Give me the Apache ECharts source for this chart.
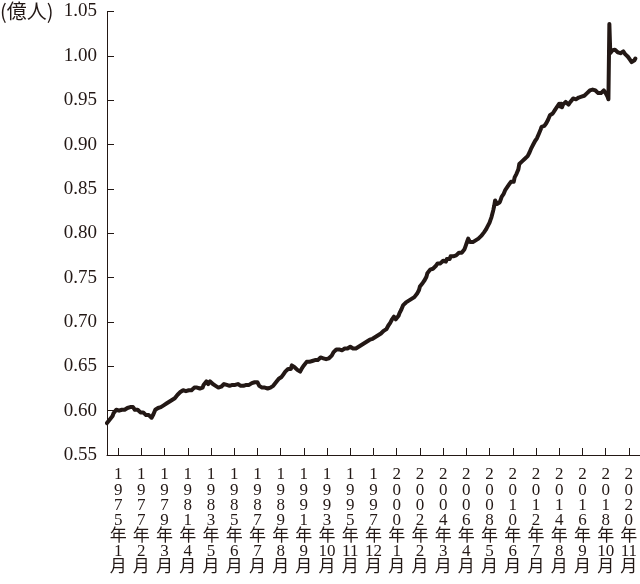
<!DOCTYPE html>
<html>
<head>
<meta charset="utf-8">
<script src="https://cdn.jsdelivr.net/npm/echarts@6/dist/echarts.min.js"></script>
<style>html,body{margin:0;padding:0;background:#fff;}#c{width:640px;height:584px;}</style>
</head>
<body>
<div id="c"></div>
<script>
// Monthly series, 1974/1 .. 2021/6 (unit: 億人)
const startYear = 1974;
const categoryCount = 575; // axis runs through 2021/11
const values = [
  // 1974
  0.586,0.588,0.587,0.590,0.592,0.591,0.594,0.597,0.596,0.599,0.601,0.600,
  // 1975
  0.602,0.600,0.601,0.599,0.601,0.600,0.602,0.601,0.599,0.601,0.603,0.602,
  // 1976
  0.603,0.604,0.602,0.603,0.604,0.602,0.601,0.602,0.600,0.601,0.599,0.600,
  // 1977
  0.598,0.599,0.597,0.598,0.596,0.597,0.595,0.596,0.594,0.595,0.593,0.594,
  // 1978
  0.592,0.594,0.596,0.598,0.601,0.600,0.601,0.603,0.601,0.602,0.604,0.603,
  // 1979
  0.604,0.606,0.605,0.607,0.608,0.607,0.609,0.610,0.611,0.610,0.612,0.613,
  // 1980
  0.612,0.614,0.613,0.616,0.618,0.620,0.619,0.621,0.620,0.622,0.623,0.622,
  // 1981
  0.621,0.622,0.620,0.621,0.623,0.622,0.624,0.623,0.625,0.624,0.626,0.625,
  // 1982
  0.627,0.626,0.628,0.627,0.625,0.624,0.623,0.626,0.629,0.631,0.630,0.633,
  // 1983
  0.632,0.630,0.631,0.633,0.632,0.631,0.630,0.628,0.629,0.628,0.627,0.628,
  // 1984
  0.626,0.628,0.627,0.627,0.629,0.628,0.630,0.628,0.629,0.629,0.627,0.628,
  // 1985
  0.628,0.626,0.627,0.629,0.628,0.627,0.629,0.628,0.629,0.630,0.628,0.629,
  // 1986
  0.628,0.629,0.630,0.628,0.627,0.629,0.629,0.628,0.630,0.629,0.631,0.630,
  // 1987
  0.631,0.632,0.630,0.632,0.631,0.633,0.632,0.630,0.628,0.629,0.627,0.626,
  // 1988
  0.627,0.625,0.626,0.624,0.626,0.625,0.626,0.624,0.626,0.627,0.626,0.628,
  // 1989
  0.629,0.630,0.632,0.633,0.634,0.636,0.635,0.637,0.638,0.640,0.641,0.643,
  // 1990
  0.644,0.646,0.645,0.647,0.646,0.649,0.647,0.651,0.649,0.651,0.649,0.648,
  // 1991
  0.647,0.646,0.645,0.646,0.644,0.646,0.648,0.650,0.651,0.653,0.652,0.655,
  // 1992
  0.654,0.656,0.655,0.657,0.657,0.656,0.658,0.656,0.657,0.655,0.656,0.657,
  // 1993
  0.658,0.659,0.660,0.661,0.660,0.659,0.661,0.660,0.658,0.659,0.658,0.659,
  // 1994
  0.658,0.660,0.662,0.664,0.666,0.665,0.667,0.669,0.668,0.670,0.669,0.671,
  // 1995
  0.670,0.668,0.669,0.670,0.670,0.671,0.669,0.670,0.671,0.670,0.672,0.671,
  // 1996
  0.671,0.670,0.671,0.669,0.670,0.670,0.671,0.672,0.673,0.672,0.674,0.675,
  // 1997
  0.675,0.676,0.677,0.676,0.678,0.679,0.678,0.680,0.679,0.680,0.681,0.682,
  // 1998
  0.682,0.683,0.684,0.684,0.685,0.686,0.685,0.687,0.688,0.688,0.690,0.691,
  // 1999
  0.691,0.692,0.694,0.696,0.697,0.699,0.701,0.703,0.704,0.706,0.704,0.703,
  // 2000
  0.702,0.705,0.707,0.710,0.712,0.714,0.716,0.719,0.718,0.720,0.722,0.723,
  // 2001
  0.722,0.724,0.723,0.725,0.726,0.725,0.727,0.728,0.729,0.730,0.732,0.733,
  // 2002
  0.736,0.740,0.741,0.742,0.744,0.745,0.747,0.749,0.751,0.755,0.754,0.756,
  // 2003
  0.759,0.757,0.761,0.760,0.762,0.760,0.763,0.762,0.766,0.764,0.767,0.766,
  // 2004
  0.768,0.766,0.769,0.768,0.770,0.768,0.771,0.770,0.773,0.771,0.774,0.772,
  // 2005
  0.773,0.774,0.775,0.776,0.775,0.777,0.776,0.778,0.777,0.776,0.778,0.777,
  // 2006
  0.779,0.782,0.785,0.788,0.791,0.794,0.792,0.790,0.791,0.789,0.790,0.789,
  // 2007
  0.790,0.792,0.791,0.793,0.794,0.795,0.796,0.797,0.798,0.799,0.801,0.803,
  // 2008
  0.804,0.806,0.808,0.810,0.812,0.815,0.818,0.822,0.826,0.831,0.837,0.835,
  // 2009
  0.833,0.834,0.832,0.835,0.838,0.841,0.842,0.844,0.846,0.849,0.850,0.852,
  // 2010
  0.853,0.855,0.854,0.858,0.856,0.860,0.858,0.863,0.862,0.867,0.866,0.872,
  // 2011
  0.878,0.879,0.880,0.881,0.882,0.883,0.884,0.885,0.886,0.887,0.888,0.891,
  // 2012
  0.893,0.896,0.895,0.900,0.899,0.904,0.902,0.907,0.906,0.912,0.911,0.917,
  // 2013
  0.920,0.919,0.921,0.921,0.922,0.924,0.926,0.928,0.930,0.933,0.932,0.934,
  // 2014
  0.935,0.937,0.936,0.940,0.939,0.943,0.941,0.946,0.943,0.946,0.942,0.945,
  // 2015
  0.945,0.947,0.948,0.947,0.946,0.945,0.947,0.948,0.949,0.950,0.952,0.951,
  // 2016
  0.950,0.951,0.950,0.952,0.953,0.954,0.955,0.954,0.953,0.953,0.955,0.956,
  // 2017
  0.957,0.958,0.959,0.960,0.961,0.962,0.961,0.962,0.963,0.962,0.961,0.960,
  // 2018
  0.959,0.958,0.957,0.957,0.958,0.959,0.960,0.961,0.959,0.958,0.956,0.954,
  // 2019
  0.951,1.036,1.003,1.005,1.006,1.004,1.005,1.007,1.006,1.005,1.004,1.005,
  // 2020
  1.004,1.003,1.004,1.003,1.005,1.004,1.002,1.001,1.000,0.999,0.998,0.996,
  // 2021
  0.994,0.993,0.992,0.993,0.995,0.997
];
const yTicks = { min: 0.55, max: 1.05, step: 0.05 };
const unitLabel = '(億人)';
const firstLabelIndex = 12;   // 1975年1月
const labelEvery = 25;        // months between labels

const categories = [];
for (let i = 0; i < categoryCount; i++) {
  const y = startYear + Math.floor(i / 12);
  const m = (i % 12) + 1;
  categories.push(y + '年' + m + '月');
}

const ink = '#231815';
const showAt = (idx) => idx >= firstLabelIndex && (idx - firstLabelIndex) % labelEvery === 0;

const chart = echarts.init(document.getElementById('c'), null, { renderer: 'canvas' });
chart.setOption({
  animation: false,
  backgroundColor: '#ffffff',
  grid: { left: 107, right: 0, top: 11.5, bottom: 129, containLabel: false, outerBoundsMode: 'none' },
  graphic: [{
    type: 'text', left: 0, top: 1,
    style: { text: unitLabel, font: '20px "Noto Sans CJK JP", sans-serif', fill: ink }
  }],
  xAxis: {
    type: 'category',
    data: categories,
    boundaryGap: false,
    axisLine: { lineStyle: { color: ink, width: 1 } },
    axisTick: { inside: true, length: 7, interval: (i) => showAt(i), lineStyle: { color: ink, width: 1 } },
    axisLabel: {
      interval: (i) => showAt(i),
      margin: 12,
      color: ink,
      fontFamily: '"Liberation Serif", "Noto Sans CJK JP", serif',
      fontSize: 17,
      lineHeight: 15.4,
      verticalAlign: 'top',
      formatter: (v) => {
        const mm = v.match(/^(\d+)年(\d+)月$/);
        return mm[1].split('').join('\n') + '\n年\n' + mm[2] + '\n月';
      }
    },
    splitLine: { show: false }
  },
  yAxis: {
    type: 'value',
    min: yTicks.min, max: yTicks.max, interval: yTicks.step,
    axisLine: { show: true, lineStyle: { color: ink, width: 1 } },
    axisTick: { show: true, inside: true, length: 7, lineStyle: { color: ink, width: 1 } },
    axisLabel: {
      color: ink, margin: 10,
      fontFamily: '"Liberation Serif", serif', fontSize: 19,
      formatter: (v) => v.toFixed(2)
    },
    splitLine: { show: false }
  },
  series: [{
    type: 'line',
    data: values,
    symbol: 'none',
    lineStyle: { color: ink, width: 4, join: 'round', cap: 'round' },
    silent: true
  }]
});
</script>
</body>
</html>
